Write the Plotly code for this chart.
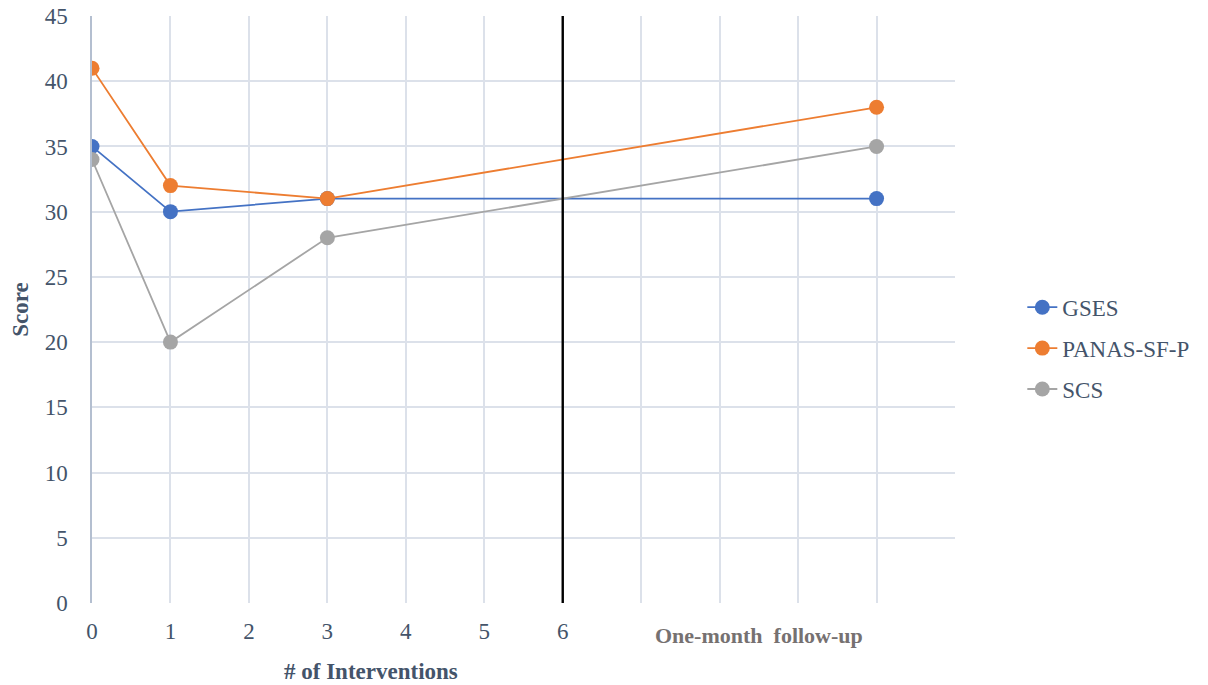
import plotly.graph_objects as go

x_vals = [0, 1, 3, 10]
gses = [35, 30, 31, 31]
panas = [41, 32, 31, 38]
scs = [34, 20, 28, 35]
series_names = ["GSES", "PANAS-SF-P", "SCS"]
colors = ["#4472C4", "#ED7D31", "#A5A5A5"]
tick_vals = list(range(0, 12))
tick_text = ["0", "1", "2", "3", "4", "5", "6", "", "", "", "", ""]
followup_label = "One-month follow-up"
followup_pos = 8.5
divider_x = 6

FONT = "Liberation Serif"
TXT = "#44546A"

fig = go.Figure()
for i, (name, ys) in enumerate(zip(series_names, [gses, panas, scs])):
    fig.add_trace(go.Scatter(
        x=x_vals, y=ys, name=name, mode="lines+markers",
        line=dict(color=colors[i], width=1.8),
        marker=dict(color=colors[i], size=15),
        legendgroup=name,
    ))

fig.add_shape(type="line", xref="x", yref="y", x0=divider_x, x1=divider_x, y0=0, y1=45,
              line=dict(color="black", width=2.4))

fig.add_annotation(x=followup_pos, y=0, xref="x", yref="y", yshift=-32,
                   text="<b>" + followup_label.replace(" ", "&nbsp; ") + "</b>", showarrow=False,
                   font=dict(family=FONT, size=22, color="#767171"))
fig.add_annotation(x=3.56, y=0, xref="x", yref="y", yshift=-68,
                   text="<b># of Interventions</b>", showarrow=False,
                   font=dict(family=FONT, size=23, color=TXT))
fig.add_annotation(x=-0.083, y=0.5, xref="paper", yref="paper", textangle=-90,
                   xanchor="center", yanchor="middle",
                   text="<b>Score</b>", showarrow=False,
                   font=dict(family=FONT, size=23, color=TXT))

fig.update_layout(
    width=1208, height=685,
    margin=dict(l=92, r=253, t=16, b=82, autoexpand=False),
    paper_bgcolor="white", plot_bgcolor="white",
    font=dict(family=FONT, size=23, color=TXT),
    showlegend=True,
    legend=dict(x=1.078, y=0.434, xanchor="left", yanchor="middle",
                font=dict(family=FONT, size=23, color=TXT),
                traceorder="grouped", tracegroupgap=8,
                bgcolor="rgba(0,0,0,0)"),
)
fig.update_xaxes(range=[0, 11], tickvals=tick_vals, ticktext=tick_text,
                 showgrid=True, gridcolor="#DCE1EA", gridwidth=1.5,
                 zeroline=False, showline=False, ticks="", automargin=False,
                 ticklabelstandoff=12,
                 tickfont=dict(family=FONT, size=23, color=TXT))
fig.update_yaxes(range=[0, 45], dtick=5,
                 showgrid=True, gridcolor="#DCE1EA", gridwidth=1.5,
                 zeroline=False, showline=True, linecolor="#B4BFD0", linewidth=1.5,
                 ticks="", ticklabelstandoff=18, automargin=False,
                 tickfont=dict(family=FONT, size=23, color=TXT))

fig.write_html("out.html")
